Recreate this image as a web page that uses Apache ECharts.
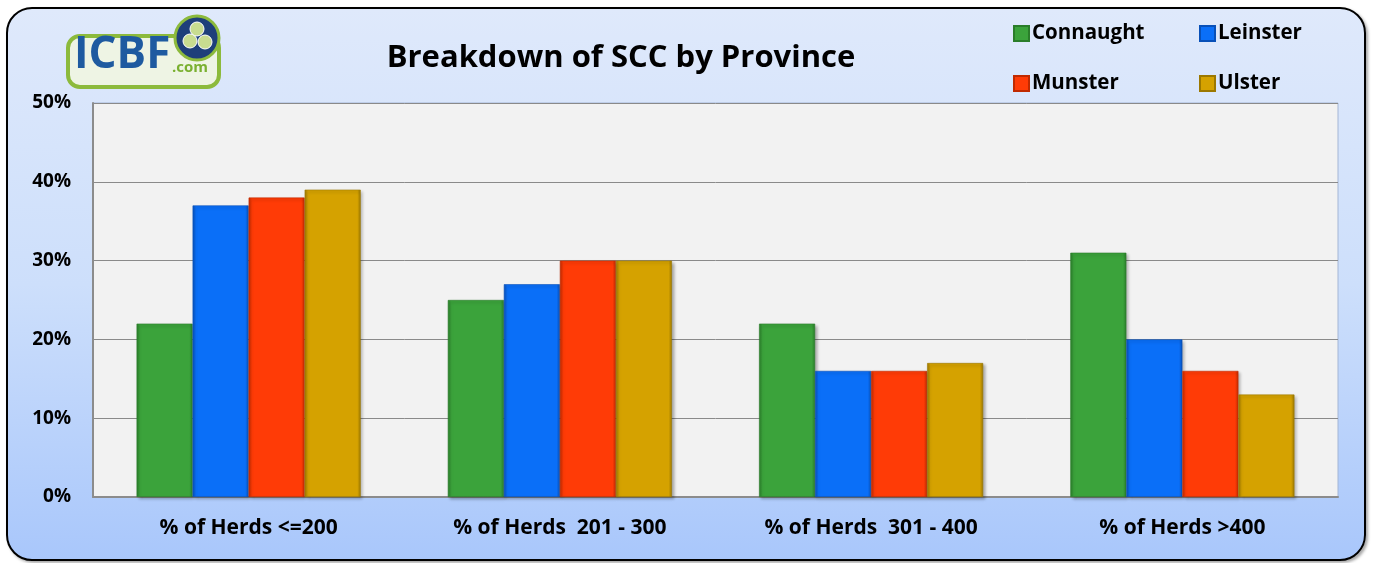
<!DOCTYPE html>
<html>
<head>
<meta charset="utf-8">
<script src="https://cdn.jsdelivr.net/npm/echarts@6/dist/echarts.min.js"></script>
<style>
  html, body { margin: 0; padding: 0; background: #fff; }
  #frame {
    position: absolute; left: 6px; top: 7px; width: 1356px; height: 550px;
    border: 2.5px solid #000; border-radius: 26px;
    background: linear-gradient(to bottom, #dfe9fb 0%, #cddffb 50%, #a9c7fb 100%);
    box-shadow: 2px 2px 3px rgba(0,0,0,0.35);
  }
  #chart { position: absolute; left: 0; top: 0; width: 1376px; height: 563px; }
</style>
</head>
<body>
<div id="frame"></div>
<div id="chart"></div>
<script>
// Datos
const categories = ['% of Herds <=200', '% of Herds  201 - 300', '% of Herds  301 - 400', '% of Herds >400'];
const connaught = [22, 25, 22, 31];
const leinster = [37, 27, 16, 20];
const munster = [38, 30, 16, 16];
const ulster = [39, 30, 17, 13];
const yTicks = [0, 10, 20, 30, 40, 50];

const FONT = '"Open Sans", Lato, sans-serif';

// Color con bisel para imitar las barras 3D
function bevel(base, dark) {
    return new echarts.graphic.LinearGradient(0, 0, 1, 0, [
        { offset: 0, color: dark },
        { offset: 0.06, color: base },
        { offset: 0.94, color: base },
        { offset: 1, color: dark }
    ]);
}

const seriesDefs = [
    { name: 'Connaught', data: connaught, base: '#3ba33b', dark: '#2a7d2a' },
    { name: 'Leinster', data: leinster, base: '#0a6ff8', dark: '#0850b8' },
    { name: 'Munster', data: munster, base: '#ff3b06', dark: '#c02a00' },
    { name: 'Ulster', data: ulster, base: '#d5a200', dark: '#9c7800' }
];

const legendText = { fontFamily: FONT, fontSize: 20.5, fontWeight: 'bold', color: '#000', padding: [0, 0, 0, -2] };

const chart = echarts.init(document.getElementById('chart'));

const option = {
    backgroundColor: 'transparent',
    animation: false,
    title: {
        text: 'Breakdown of SCC by Province',
        left: 616, top: 38, textAlign: 'center',
        textStyle: { fontFamily: FONT, fontSize: 31, fontWeight: 'bold', color: '#000' }
    },
    legend: [
        {
            data: ['Connaught', 'Munster'],
            orient: 'vertical', left: 1013, top: 23, itemGap: 29, padding: 0,
            itemWidth: 15, itemHeight: 15, icon: 'rect',
            textStyle: legendText
        },
        {
            data: ['Leinster', 'Ulster'],
            orient: 'vertical', left: 1199, top: 23, itemGap: 29, padding: 0,
            itemWidth: 15, itemHeight: 15, icon: 'rect',
            textStyle: legendText
        }
    ],
    grid: {
        left: 93, right: 38, top: 103, bottom: 66,
        show: true, backgroundColor: '#f2f2f2', borderColor: '#a4b6d6', borderWidth: 1
    },
    xAxis: {
        type: 'category',
        data: categories,
        axisTick: { show: false },
        axisLine: { lineStyle: { color: '#8c8c8c', width: 2 } },
        axisLabel: { margin: 21, fontFamily: FONT, fontSize: 21, fontWeight: 'bold', color: '#000' }
    },
    yAxis: {
        type: 'value',
        min: yTicks[0], max: yTicks[yTicks.length - 1], interval: 10,
        axisLine: { show: true, lineStyle: { color: '#8c8c8c', width: 2 } },
        axisTick: { show: false },
        splitLine: { lineStyle: { color: '#8a8a8a', width: 1 } },
        axisLabel: {
            margin: 22, fontFamily: FONT, fontSize: 19, fontWeight: 'bold', color: '#000',
            formatter: '{value}%'
        }
    },
    series: seriesDefs.map(s => ({
        name: s.name,
        type: 'bar',
        data: s.data,
        barGap: '0%',
        barCategoryGap: '28%',
        itemStyle: {
            color: bevel(s.base, s.dark),
            borderColor: s.dark, borderWidth: 0.6,
            shadowColor: 'rgba(0,0,0,0.3)', shadowBlur: 3, shadowOffsetX: 2, shadowOffsetY: 2
        }
    })),
    // Logo ICBF.com dibujado a mano
    graphic: [
        {
            type: 'rect', left: 66, top: 34, shape: { width: 151, height: 51, r: 12 },
            style: { fill: '#eef4e4', stroke: '#8cba3c', lineWidth: 4 }
        },
        {
            type: 'text', left: 74, top: 33,
            style: { text: 'ICBF', fill: '#1e5aa0', font: 'bold 44px ' + FONT }
        },
        {
            type: 'text', left: 172, top: 60,
            style: { text: '.com', fill: '#7ab030', font: 'bold 15px ' + FONT }
        },
        {
            type: 'circle', shape: { cx: 197, cy: 38, r: 22 },
            style: { fill: '#1e3f7a', stroke: '#8cba3c', lineWidth: 3 }
        },
        {
            type: 'circle', shape: { cx: 190, cy: 41, r: 7 },
            style: { fill: '#c8dc90', stroke: '#fff', lineWidth: 1 }
        },
        {
            type: 'circle', shape: { cx: 205, cy: 42, r: 7 },
            style: { fill: '#c8dc90', stroke: '#fff', lineWidth: 1 }
        },
        {
            type: 'circle', shape: { cx: 197, cy: 29, r: 7 },
            style: { fill: '#c8dc90', stroke: '#fff', lineWidth: 1 }
        }
    ]
};

chart.setOption(option);
</script>
</body>
</html>
